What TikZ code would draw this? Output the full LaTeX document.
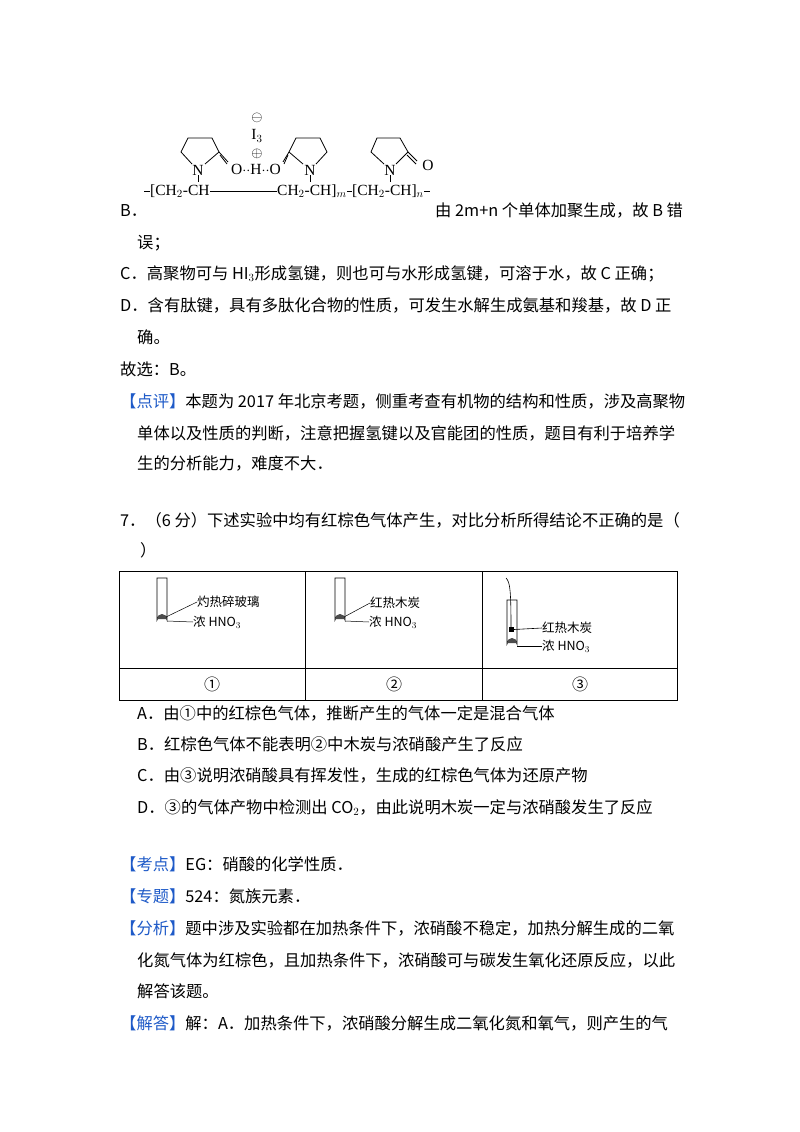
\documentclass[tikz,border=0pt]{standalone}
\usepackage{fontspec}
\setmainfont{Liberation Serif}
\newfontfamily\cjk{Noto Sans CJK SC}
\begin{document}
\begin{tikzpicture}[x=1pt,y=-1pt,
  ln/.style={anchor=base west,inner sep=0pt,font=\cjk\fontsize{16.3}{18}\selectfont},
  sm/.style={inner sep=0pt,font=\fontsize{15.5}{16}\selectfont},
  tl/.style={anchor=west,inner sep=0pt,font=\cjk\fontsize{12.5}{13}\selectfont},
  bnd/.style={line width=0.8pt}]
\useasboundingbox[fill=white] (0,0) rectangle (800,1132);
\definecolor{blu}{RGB}{30,90,200}
% ---- structure ----
\node[sm] (n1) at (198,170) {N};
\node[sm] (n2) at (310,170) {N};
\node[sm] (n3) at (390,170) {N};
\draw[bnd] (192,164)--(181,152)--(188,138)--(212,138)--(219,152)--(205,164);
\draw[bnd] (219,152)--(228,162); \draw[bnd] (220,155)--(227,164);
\node[sm] (hb) at (256,169) {O$\cdot\cdot$H$\cdot\cdot$O};
\node[sm] (i3) at (257,136) {I$_3$};
\node[sm] at (257,118) {$\ominus$};
\node[sm] at (257,154) {$\oplus$};
\draw[bnd] (316,164)--(327,152)--(320,138)--(296,138)--(289,152)--(303,164);
\draw[bnd] (289,152)--(283,162); \draw[bnd] (288,155)--(284,164);
\draw[bnd] (396,164)--(408,152)--(400,138)--(377,138)--(371,152)--(384,164);
\draw[bnd] (408,152)--(417,161); \draw[bnd] (407,155)--(416,164);
\node[sm] at (428,165) {O};
\draw[bnd] (n1)--(198,182); \draw[bnd] (n2)--(310,182); \draw[bnd] (n3)--(390,182);
\node[sm,anchor=west] (b1) at (150,191) {[CH$_2$-CH};
\node[sm,anchor=west] (b2) at (277,191) {CH$_2$-CH]$_m$};
\node[sm,anchor=west] (b3) at (352,191) {[CH$_2$-CH]$_n$};
\draw[bnd] (b1.east)--(b2.west);
\draw[bnd] (144,191)--(150,191); \draw[bnd] (b2.east)--(b3.west); \draw[bnd] (b3.east)--++(6,0);
% ---- text ----
\node[ln] at (120,216) {B．};
\node[ln] at (435,216) {由 2m+n 个单体加聚生成，故 B 错};
\node[ln] at (137,248) {误；};
\node[ln] at (120,279) {C．高聚物可与 HI$_3$形成氢键，则也可与水形成氢键，可溶于水，故 C 正确；};
\node[ln] at (120,311) {D．含有肽键，具有多肽化合物的性质，可发生水解生成氨基和羧基，故 D 正};
\node[ln] at (137,343) {确。};
\node[ln] at (120,375) {故选：B。};
\node[ln] at (120,407) {\textcolor{blu}{【点评】}本题为 2017 年北京考题，侧重考查有机物的结构和性质，涉及高聚物};
\node[ln] at (137,439) {单体以及性质的判断，注意把握氢键以及官能团的性质，题目有利于培养学};
\node[ln] at (137,469) {生的分析能力，难度不大．};
\node[ln] at (120,526) {7．（6 分）下述实验中均有红棕色气体产生，对比分析所得结论不正确的是（};
\node[ln] at (140,556) {）};
% ---- table ----
\draw[line width=0.8pt] (119,571) rectangle (677,700);
\draw[line width=0.6pt] (119,668)--(677,668) (305,571)--(305,700) (482,571)--(482,700);
\node[inner sep=0pt,font=\cjk\fontsize{16}{16}\selectfont] at (212,684) {①};
\node[inner sep=0pt,font=\cjk\fontsize{16}{16}\selectfont] at (394,684) {②};
\node[inner sep=0pt,font=\cjk\fontsize{16}{16}\selectfont] at (580,684) {③};
% tube 1
\draw[line width=0.7pt] (157,578)--(157,620) arc(180:360:5) -- (167,578)--cycle;
\fill[black!70] (157,619) arc(180:360:5)--cycle;
\node[tl] (t1a) at (197,602) {灼热碎玻璃};
\node[tl] (t1b) at (193,622) {浓 HNO$_3$};
\draw[line width=0.5pt] (166,617)--(t1a.west);
\draw[line width=0.5pt] (167,621)--(t1b.west);
% tube 2
\draw[line width=0.7pt] (335,578)--(335,620) arc(180:360:5) -- (345,578)--cycle;
\fill[black!70] (335,619) arc(180:360:5)--cycle;
\node[tl] (t2a) at (370,603) {红热木炭};
\node[tl] (t2b) at (369,622) {浓 HNO$_3$};
\draw[line width=0.5pt] (344,617)--(t2a.west);
\draw[line width=0.5pt] (345,621)--(t2b.west);
% tube 3
\draw[line width=0.7pt] (507,600)--(507,644) arc(180:360:5) -- (517,600)--cycle;
\fill[black!70] (507,643) arc(180:360:5)--cycle;
\draw[line width=0.6pt] (506,578) .. controls (510,582) and (511,590) .. (511,628);
\fill (508.5,627) rectangle (514,632);
\node[tl] (t3a) at (542,628) {红热木炭};
\node[tl] (t3b) at (542,646) {浓 HNO$_3$};
\draw[line width=0.6pt] (514,629.5)--(t3a.west);
\draw[line width=0.5pt] (517,646)--(t3b.west);
% ---- options ----
\node[ln] at (137,719) {A．由①中的红棕色气体，推断产生的气体一定是混合气体};
\node[ln] at (137,750) {B．红棕色气体不能表明②中木炭与浓硝酸产生了反应};
\node[ln] at (137,781) {C．由③说明浓硝酸具有挥发性，生成的红棕色气体为还原产物};
\node[ln] at (137,813) {D．③的气体产物中检测出 CO$_2$，由此说明木炭一定与浓硝酸发生了反应};
\node[ln] at (120,870) {\textcolor{blu}{【考点】}EG：硝酸的化学性质．};
\node[ln] at (120,902) {\textcolor{blu}{【专题】}524：氮族元素．};
\node[ln] at (120,934) {\textcolor{blu}{【分析】}题中涉及实验都在加热条件下，浓硝酸不稳定，加热分解生成的二氧};
\node[ln] at (137,966) {化氮气体为红棕色，且加热条件下，浓硝酸可与碳发生氧化还原反应，以此};
\node[ln] at (137,997) {解答该题。};
\node[ln] at (120,1029) {\textcolor{blu}{【解答】}解：A．加热条件下，浓硝酸分解生成二氧化氮和氧气，则产生的气};
\end{tikzpicture}
\end{document}
